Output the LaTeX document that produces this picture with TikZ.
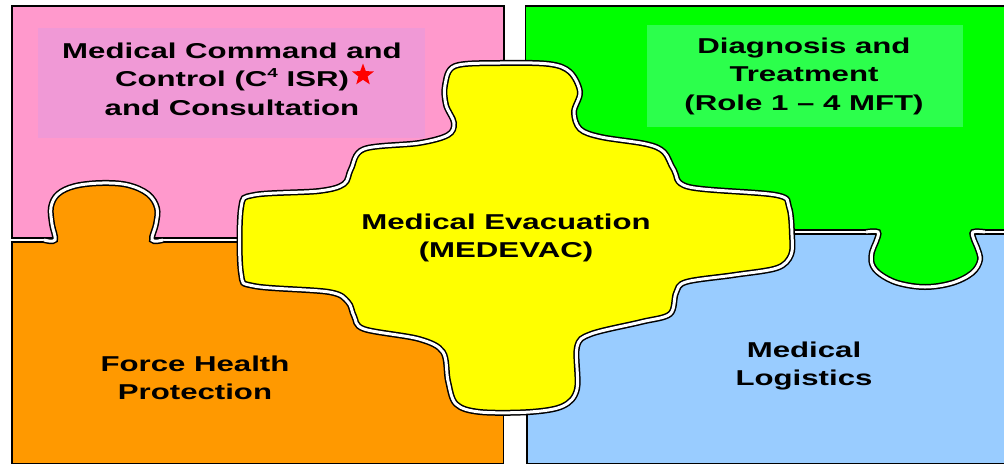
\documentclass[tikz,border=0pt]{standalone}
\usepackage{fontspec}
\newfontfamily\labfont[FakeStretch=1.45]{Liberation Sans}
\usetikzlibrary{shapes.geometric}
\definecolor{pinkp}{HTML}{FF99CC}
\definecolor{pinkbox}{HTML}{F099D6}
\definecolor{greenp}{HTML}{00FF00}
\definecolor{greenbox}{HTML}{2CFF4C}
\definecolor{orangep}{HTML}{FF9900}
\definecolor{bluep}{HTML}{99CCFF}
\definecolor{yellowp}{HTML}{FFFF00}
\begin{document}
\begin{tikzpicture}[x=1pt,y=-1pt,
  piece/.style={draw=black,line width=1.5pt},
  seam/.style={draw=black,line width=1.5pt,double=white,double distance=3pt},
  lab/.style={font=\labfont\bfseries\fontsize{21.5}{28.5}\selectfont,align=center,inner sep=0pt,text=black}]
\useasboundingbox (0,0) rectangle (1004,464);
\clip (0,0) rectangle (1004,464);
\fill[white] (0,0) rectangle (1004,464);
% four rectangular pieces
\filldraw[piece,fill=pinkp] (12,6) rectangle (504,238);
\filldraw[piece,fill=greenp] (525.5,6) rectangle (1012,230);
\filldraw[piece,fill=orangep] (12,242) rectangle (503.5,463.5);
\filldraw[piece,fill=bluep] (527,234) rectangle (1012,463.5);
% text backgrounds
\fill[pinkbox] (38,28) rectangle (425,138);
\fill[greenbox] (647,25) rectangle (963,127);
% orange tab into pink
\fill[orangep] plot[smooth,tension=0.6] coordinates {(55,240) (52,224) (51,207) (58,194) (75,186) (102,183) (128,185) (148,194) (157,208) (156,224) (152,240)} -- (152,247) -- (55,247) -- cycle;
\draw[seam] plot[smooth,tension=0.6] coordinates {(44,240) (55,240) (52,224) (51,207) (58,194) (75,186) (102,183) (128,185) (148,194) (157,208) (156,224) (152,240) (163,240)};
% green tab into blue
\fill[greenp] plot[smooth,tension=0.6] coordinates {(878,232) (876,242) (872,252) (872,264) (880,274) (898,283) (925,287) (952,283) (972,273) (980,260) (977,247) (974,240) (973,232)} -- (973,226) -- (878,226) -- cycle;
\draw[seam] plot[smooth,tension=0.6] coordinates {(866,232) (878,232) (876,242) (872,252) (872,264) (880,274) (898,283) (925,287) (952,283) (972,273) (980,260) (977,247) (974,240) (973,232) (985,232)};
% central yellow piece
\draw[seam,fill=yellowp] plot[smooth cycle,tension=0.55] coordinates {
 (500,63) (549,64) (570,72) (580,92) (574,112) (580,129) (601,137) (646,144) (664,152) (674,170) (689,187) (776,195) (789,207) (792,235) (791,255) (777,268) (734,275) (686,282) (676,293) (670,314) (641,322) (591,334) (577,347) (577,389) (563,406) (530,412) (480,412) (456,404) (448,381) (443,352) (419,339) (364,329) (354,316) (348,302) (329,292) (254,286) (241,273) (241,208) (254,195) (319,191) (344,184) (351,169) (364,149) (419,143) (448,135) (454,123) (446,105) (445,85) (455,66)};
% labels
\node[lab] (cmd) at (232,79) {Medical Command and\\Control (C\raisebox{0.45em}{\fontsize{13}{13}\selectfont 4} ISR)\\and Consultation};
\node[star,star points=5,star point ratio=2.4,fill=red,minimum size=23pt,inner sep=0pt] (star) at (363,75) {};
\node[lab] (diag) at (804,76) {Diagnosis and\\Treatment\\(Role 1 – 4 MFT)};
\node[lab] (evac) at (506,238) {Medical Evacuation\\(MEDEVAC)};
\node[lab] (fhp) at (195,378) {Force Health\\Protection};
\node[lab] (log) at (804,366) {Medical\\Logistics};
\end{tikzpicture}
\end{document}
